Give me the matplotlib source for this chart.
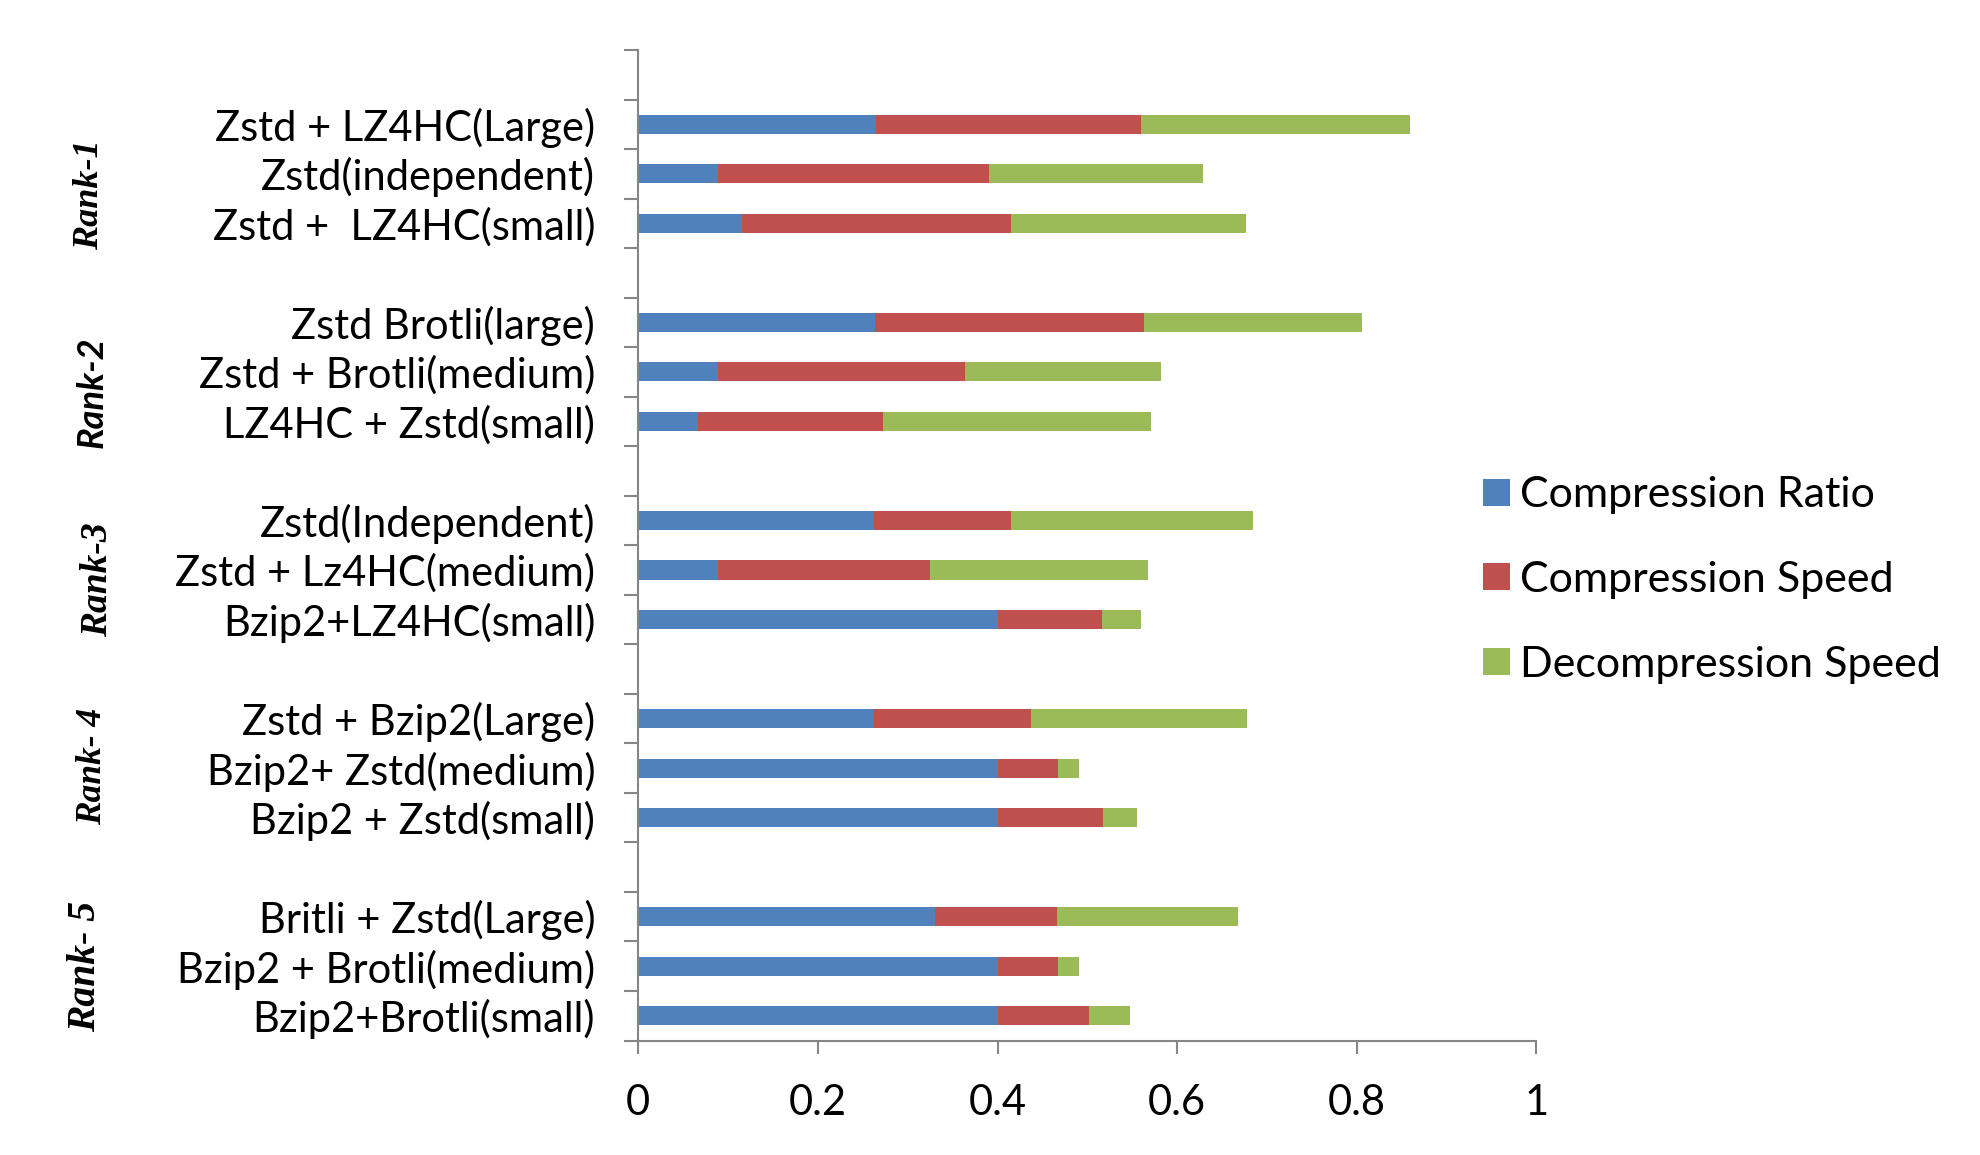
import matplotlib.pyplot as plt
import numpy as np

# bar labels, top to bottom (3 per rank)
labels = ["Zstd + LZ4HC(Large)", "Zstd(independent)", "Zstd +  LZ4HC(small)",
          "Zstd Brotli(large)", "Zstd + Brotli(medium)", "LZ4HC + Zstd(small)",
          "Zstd(Independent)", "Zstd + Lz4HC(medium)", "Bzip2+LZ4HC(small)",
          "Zstd + Bzip2(Large)", "Bzip2+ Zstd(medium)", "Bzip2 + Zstd(small)",
          "Britli + Zstd(Large)", "Bzip2 + Brotli(medium)", "Bzip2+Brotli(small)"]

comp_ratio = [0.265, 0.089, 0.115,
              0.264, 0.089, 0.066,
              0.263, 0.089, 0.400,
              0.263, 0.400, 0.400,
              0.330, 0.400, 0.400]
comp_speed = [0.295, 0.301, 0.300,
              0.299, 0.275, 0.206,
              0.152, 0.236, 0.116,
              0.174, 0.067, 0.117,
              0.136, 0.067, 0.102]
decomp_speed = [0.299, 0.239, 0.262,
                0.243, 0.218, 0.299,
                0.269, 0.243, 0.044,
                0.241, 0.024, 0.038,
                0.202, 0.024, 0.046]

series_names = ["Compression Ratio", "Compression Speed", "Decompression Speed"]
colors = ["#4F81BD", "#C0504D", "#9BBB59"]

ranks = ["Rank-1", "Rank-2", "Rank-3", "Rank- 4", "Rank- 5"]
xticks = [0, 0.2, 0.4, 0.6, 0.8, 1]
xticklabels = ["0", "0.2", "0.4", "0.6", "0.8", "1"]

W, H = 1980, 1155
fig = plt.figure(figsize=(W / 100, H / 100), dpi=100)
ax = fig.add_axes([638.3 / W, 1 - 1040.5 / H, 898 / W, 990.5 / H])

# one blank slot above each group of 3
n_slots = 4 * len(ranks)
ypos = np.array([4 * (i // 3) + 1 + i % 3 for i in range(len(labels))])

left = np.zeros(len(labels))
handles = []
for vals, name, c in zip([comp_ratio, comp_speed, decomp_speed], series_names, colors):
    vals = np.array(vals)
    b = ax.barh(ypos, vals, left=left, height=0.385, color=c, label=name)
    handles.append(b)
    left = left + vals

ax.set_ylim(n_slots - 0.5, -0.5)
ax.set_xlim(0, 1)

gray = "#868686"
for s in ["top", "right"]:
    ax.spines[s].set_visible(False)
for s in ["left", "bottom"]:
    ax.spines[s].set_color(gray)
    ax.spines[s].set_linewidth(1.5)

font = ["Lato", "DejaVu Sans"]
fs = 30

# tick marks at the category boundaries, labels at centres
ax.set_yticks(np.arange(n_slots + 1) - 0.5)
ax.set_yticklabels([])
ax.set_yticks(ypos, minor=True)
ax.set_yticklabels(labels, minor=True, fontsize=fs, family=font)
ax.tick_params(axis="y", which="major", length=10, width=1.5, color=gray, direction="out")
ax.tick_params(axis="y", which="minor", length=0, pad=31)

ax.set_xticks(xticks)
ax.set_xticklabels(xticklabels, fontsize=fs, family=font)
ax.tick_params(axis="x", length=9.4, width=1.5, color=gray, pad=22)

# rank group titles
rank_pos = [(89.5, 195), (92, 392), (98, 580), (93, 766), (86, 966)]
rank_size = [26, 26, 27, 25.5, 28.5]
for i, r in enumerate(ranks):
    x, y = rank_pos[i]
    fam = ["Lato", "DejaVu Sans"] if i == 1 else ["Liberation Serif", "DejaVu Serif"]
    fig.text(x / W, 1 - y / H, r, rotation=90, ha="center", va="center",
             fontsize=rank_size[i], family=fam, style="italic", weight="bold")

fig.legend(handles, series_names, loc="center left",
           bbox_to_anchor=(1483 / W, 1 - 580 / H), frameon=False,
           prop={"family": font, "size": 31},
           handlelength=0.62, handleheight=0.6, handletextpad=0.25,
           labelspacing=1.08, borderpad=0, borderaxespad=0)

fig.savefig("out.png", dpi=100)
